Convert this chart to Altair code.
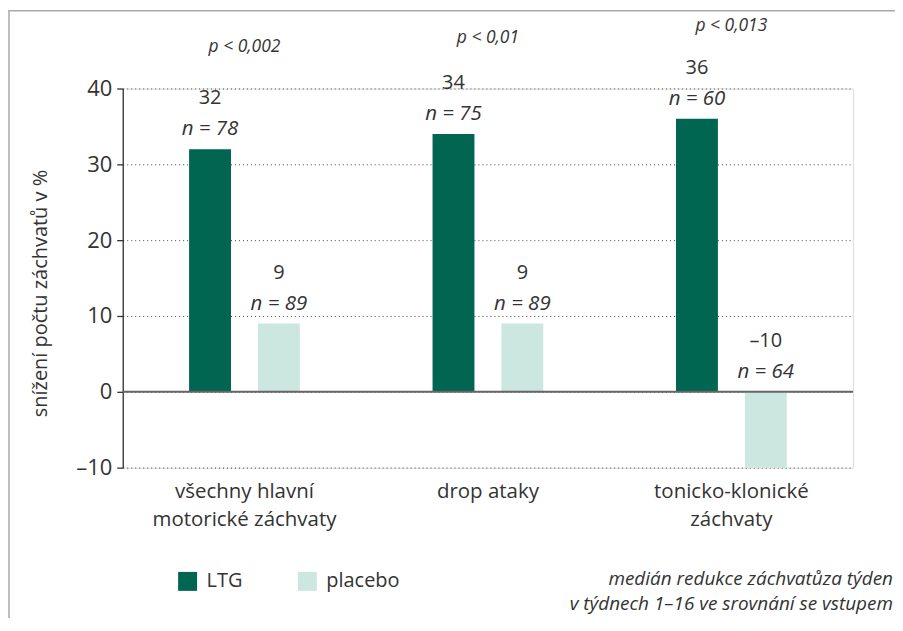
import altair as alt
import pandas as pd

FONT = "Open Sans"
TEXT = "#333333"

categories = ["všechny hlavní\nmotorické záchvaty", "drop ataky", "tonicko-klonické\nzáchvaty"]
series_names = ["LTG", "placebo"]
ltg_values = [32, 34, 36]
placebo_values = [9, 9, -10]
ltg_n = [78, 75, 60]
placebo_n = [89, 89, 64]
p_labels = ["p < 0,002", "p < 0,01", "p < 0,013"]
p_levels = [45.5, 46.7, 48.2]
y_ticks = [-10, 0, 10, 20, 30, 40]
colors = ["#006651", "#cce7e0"]
y_title = "snížení počtu záchvatů v %"
note_text = "medián redukce záchvatůza týden\nv týdnech 1–16 ve srovnání se vstupem"

rows = []
for i, c in enumerate(categories):
    for s, vals, ns in (("LTG", ltg_values, ltg_n), ("placebo", placebo_values, placebo_n)):
        v = vals[i]
        rows.append({"cat": c, "series": s, "value": v, "base": max(v, 0),
                     "vlabel": str(v).replace("-", "–"), "nlabel": f"n = {ns[i]}"})
df = pd.DataFrame(rows)
pdf = pd.DataFrame({"cat": categories, "plabel": p_labels, "plevel": p_levels})
one = pd.DataFrame({"note": [note_text]})

x_axis = alt.Axis(title=None, domain=False, ticks=False, grid=False,
                  labelExpr="split(datum.value, '\\n')", labelAngle=0, labelLimit=0,
                  labelFontSize=20.5, labelLineHeight=28, labelPadding=14,
                  labelColor=TEXT, labelFont=FONT)
xenc = alt.X("cat:N", sort=categories, axis=x_axis,
             scale=alt.Scale(paddingInner=0, paddingOuter=0))
xoff = alt.XOffset("series:N", sort=series_names,
                   scale=alt.Scale(paddingInner=0.3913, paddingOuter=0.9638))

y_axis = alt.Axis(title=y_title, values=y_ticks, grid=True, gridDash=[1, 3],
                  gridColor="#444444", gridWidth=1, domainColor="#333333",
                  domainWidth=1.3, tickColor="#333333", tickSize=6, tickWidth=1.3,
                  labelFontSize=22, labelPadding=5, labelColor=TEXT, labelFont=FONT,
                  labelExpr="datum.value < 0 ? '–' + abs(datum.value) : datum.label",
                  titleFontSize=20, titleFont=FONT, titleColor=TEXT, titleFontWeight="normal",
                  titleX=-82, titleY=205, titleBaseline="middle", titleAngle=270)
yscale = alt.Scale(domain=[-10, 40], nice=False, zero=True)


def yenc(field):
    return alt.Y(f"{field}:Q", scale=yscale, axis=y_axis, title=y_title)


base = alt.Chart(df)

border = alt.Chart(one).mark_rect(filled=False, stroke="#a8a8a8", strokeWidth=1.5).encode(
    x=alt.value(-114), x2=alt.value(1000), y=alt.value(-78), y2=alt.value(900))

bars = base.mark_bar().encode(
    x=xenc, xOffset=xoff, y=yenc("value"),
    color=alt.Color("series:N", sort=series_names,
                    scale=alt.Scale(domain=series_names, range=colors),
                    legend=alt.Legend(orient="none", legendX=55, legendY=484,
                                      direction="horizontal", title=None,
                                      symbolType="square", symbolSize=361,
                                      symbolStrokeWidth=0, labelFontSize=20,
                                      labelFont=FONT, labelColor=TEXT,
                                      columnPadding=55, labelOffset=9, padding=0)),
)

zero = alt.Chart(one).mark_rule(color="#666666", strokeWidth=2).encode(y=alt.datum(0))

vtext = base.mark_text(font=FONT, fontSize=20, color=TEXT, baseline="middle", dy=-51).encode(
    x=xenc, xOffset=xoff, y=yenc("base"), text="vlabel:N")
ntext = base.mark_text(font=FONT, fontSize=20.5, fontStyle="italic", color=TEXT,
                       baseline="middle", dy=-20).encode(
    x=xenc, xOffset=xoff, y=yenc("base"), text="nlabel:N")
ptext = alt.Chart(pdf).mark_text(font=FONT, fontSize=17.5, fontStyle="italic", color=TEXT,
                                 baseline="middle").encode(
    x=xenc, y=yenc("plevel"), text="plabel:N")

note = alt.Chart(one).mark_text(lineBreak="\n", font=FONT, fontSize=19,
                                fontStyle="italic", color=TEXT, align="right",
                                baseline="middle", lineHeight=25).encode(
    x=alt.value(772), y=alt.value(492), text="note:N")

chart = alt.layer(border, bars, zero, vtext, ntext, ptext, note).properties(
    width=732, height=380,
    autosize=alt.AutoSizeParams(type="none"),
    padding={"left": 115, "top": 80, "right": 42, "bottom": 150},
).configure_view(stroke=None).configure(background="white")

chart.save("out.html", embed_options={"renderer": "svg", "actions": False})
